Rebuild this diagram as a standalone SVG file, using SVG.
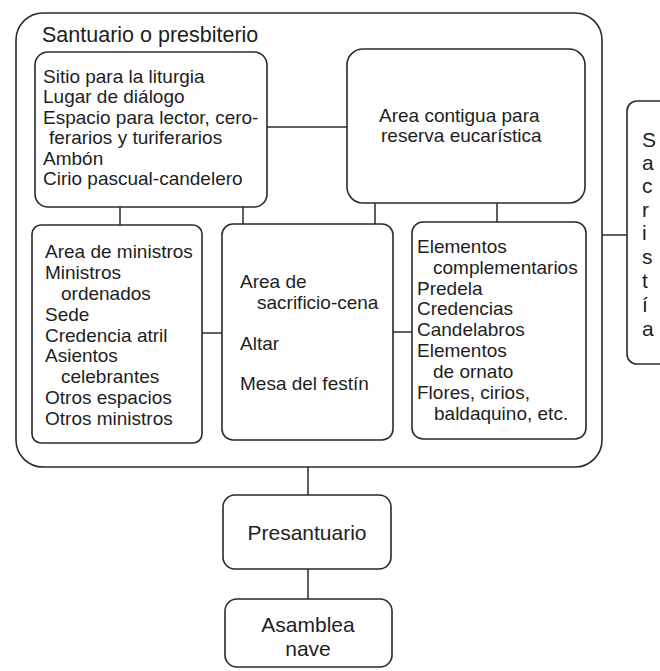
<svg xmlns="http://www.w3.org/2000/svg" width="660" height="671" viewBox="0 0 660 671">
<style>
.box{fill:none;stroke:#2a2a2a;stroke-width:1.6}
.c{fill:none;stroke:#2a2a2a;stroke-width:1.5}
text{font-family:"Liberation Sans",Arial,sans-serif;font-size:19px;fill:#1e1e1e}
.big{font-size:21px}
.title{font-size:21.5px}
.v{font-size:21px}
.mid{text-anchor:middle}
</style>
<rect width="660" height="671" fill="#ffffff"/>
<g id="connectors">
<line class="c" x1="267" y1="127" x2="347" y2="127"/>
<line class="c" x1="120" y1="207" x2="120" y2="225"/>
<line class="c" x1="243" y1="207" x2="243" y2="224"/>
<line class="c" x1="375" y1="203" x2="375" y2="224"/>
<line class="c" x1="497" y1="203" x2="497" y2="222"/>
<line class="c" x1="202" y1="333" x2="222" y2="333"/>
<line class="c" x1="393" y1="332" x2="412" y2="332"/>
<line class="c" x1="602" y1="235" x2="627" y2="235"/>
<line class="c" x1="308" y1="467" x2="308" y2="495"/>
<line class="c" x1="308" y1="569" x2="308" y2="599"/>
</g>
<g id="santuario">
<rect class="box" x="16" y="13" width="586" height="454" rx="27"/>
<text class="title" x="42" y="42">Santuario o presbiterio</text>
</g>
<g id="liturgia">
<rect class="box" x="35" y="52" width="232" height="155" rx="13"/>
<text x="43" y="83">Sitio para la liturgia</text>
<text x="43" y="103">Lugar de diálogo</text>
<text x="43" y="124">Espacio para lector, cero-</text>
<text x="49" y="144">ferarios y turiferarios</text>
<text x="43" y="165">Ambón</text>
<text x="43" y="185">Cirio pascual-candelero</text>
</g>
<g id="reserva">
<rect class="box" x="347" y="49" width="238" height="154" rx="16"/>
<text x="379" y="122">Area contigua para</text>
<text x="381" y="142">reserva eucarística</text>
</g>
<g id="ministros">
<rect class="box" x="32" y="225" width="170" height="218" rx="9"/>
<text x="45" y="258">Area de ministros</text>
<text x="45" y="279">Ministros</text>
<text x="61" y="300">ordenados</text>
<text x="45" y="321">Sede</text>
<text x="45" y="342">Credencia atril</text>
<text x="45" y="362">Asientos</text>
<text x="61" y="383">celebrantes</text>
<text x="45" y="404">Otros espacios</text>
<text x="45" y="425">Otros ministros</text>
</g>
<g id="sacrificio">
<rect class="box" x="222" y="224" width="171" height="216" rx="11"/>
<text x="240" y="288">Area de</text>
<text x="257" y="309">sacrificio-cena</text>
<text x="240" y="350">Altar</text>
<text x="240" y="390">Mesa del festín</text>
</g>
<g id="complementarios">
<rect class="box" x="412" y="222" width="174" height="217" rx="11"/>
<text x="417" y="253">Elementos</text>
<text x="433" y="274">complementarios</text>
<text x="417" y="295">Predela</text>
<text x="417" y="315">Credencias</text>
<text x="417" y="336">Candelabros</text>
<text x="417" y="357">Elementos</text>
<text x="433" y="378">de ornato</text>
<text x="417" y="399">Flores, cirios,</text>
<text x="434" y="420">baldaquino, etc.</text>
</g>
<g id="sacristia">
<rect class="box" x="627" y="101" width="60" height="263" rx="10"/>
<text class="v" x="642" y="147">S</text>
<text class="v" x="642" y="170">a</text>
<text class="v" x="642" y="193">c</text>
<text class="v" x="642" y="217">r</text>
<text class="v" x="642" y="240">i</text>
<text class="v" x="642" y="264">s</text>
<text class="v" x="642" y="288">t</text>
<text class="v" x="642" y="312">í</text>
<text class="v" x="642" y="336">a</text>
</g>
<g id="presantuario">
<rect class="box" x="223" y="495" width="168" height="74" rx="12"/>
<text class="big mid" x="307" y="540">Presantuario</text>
</g>
<g id="asamblea">
<rect class="box" x="225" y="599" width="167" height="68" rx="12"/>
<text class="big mid" x="308" y="632">Asamblea</text>
<text class="big mid" x="308" y="656">nave</text>
</g>
</svg>
